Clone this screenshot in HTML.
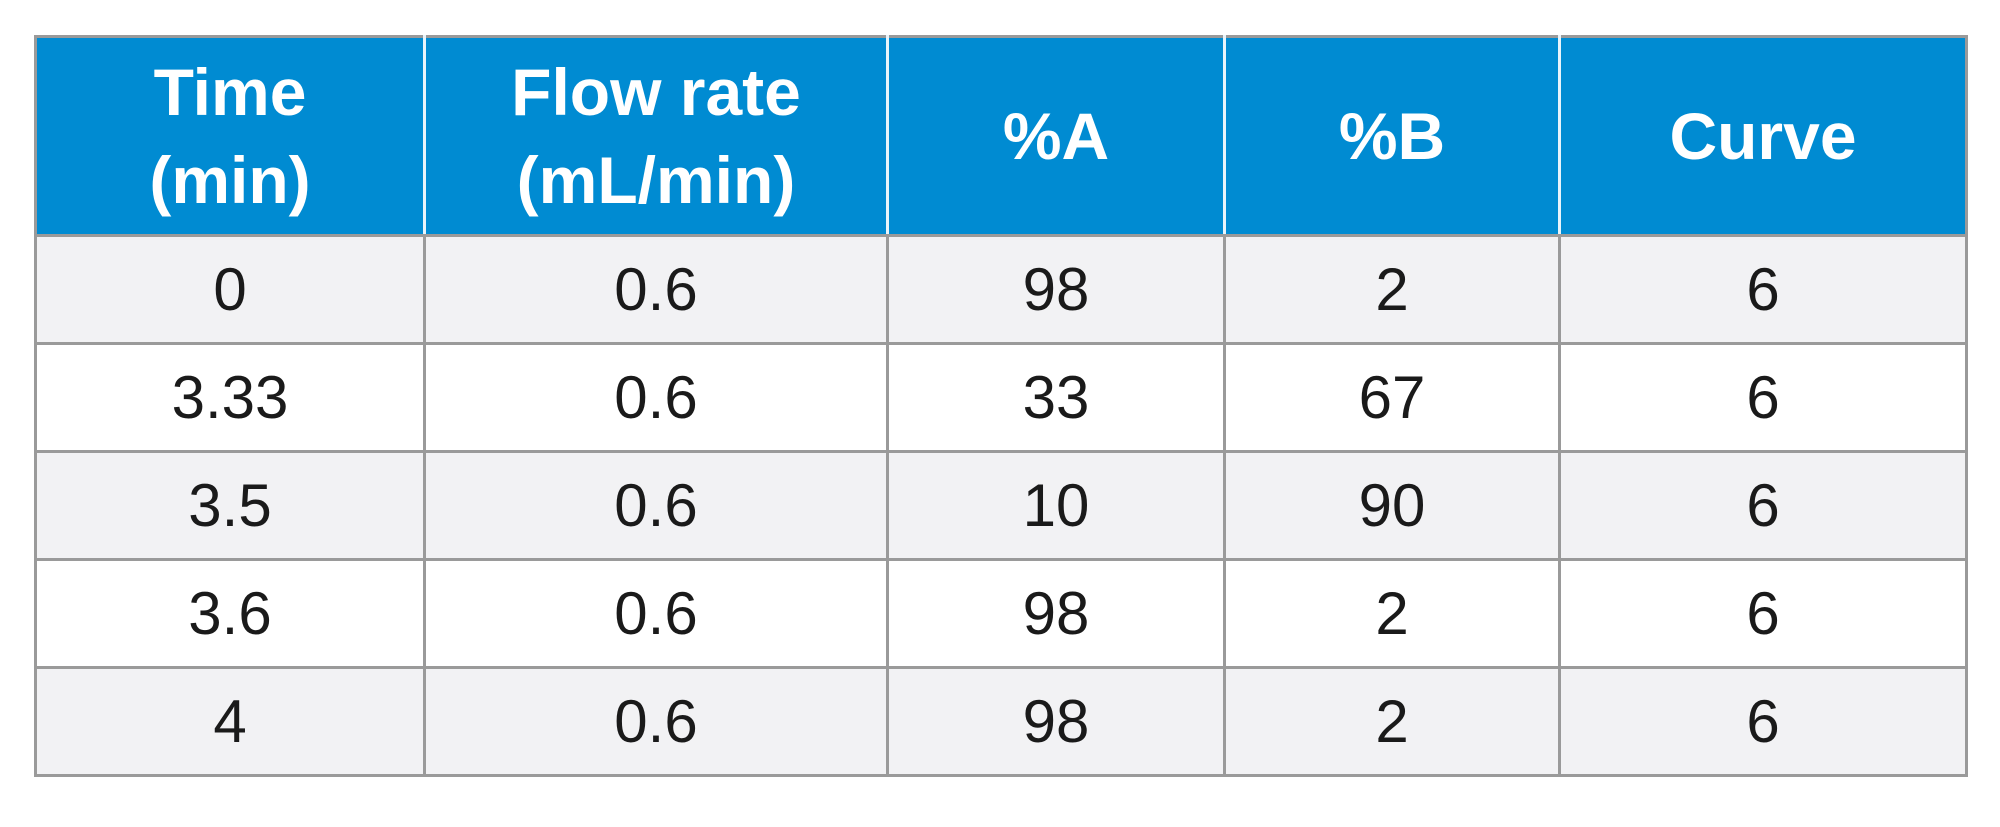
<!DOCTYPE html>
<html><head><meta charset="utf-8"><style>
html,body{margin:0;padding:0;background:#fff;width:2000px;height:827px;overflow:hidden;font-family:"Liberation Sans",Arial,sans-serif}
table{position:absolute;left:34px;top:35px;border-collapse:collapse;width:1931px;table-layout:fixed}
td,th{border:3px solid #9a9a9a;text-align:center;padding:0}
th{background:#008bd2;color:#fff;font-weight:bold;font-size:66px;line-height:88px;height:196px;border-left-color:#e8f4fb;border-right-color:#e8f4fb}
th:first-child{border-left-color:#9a9a9a}th:last-child{border-right-color:#9a9a9a}
td{font-size:60px;color:#1a1a1a;height:105px}
tr.g td{background:#f2f2f4}
</style></head><body>
<table>
<colgroup><col style="width:389px"><col style="width:463px"><col style="width:337px"><col style="width:335px"><col style="width:407px"></colgroup>
<tr><th>Time<br>(min)</th><th>Flow rate<br>(mL/min)</th><th>%A</th><th>%B</th><th>Curve</th></tr>
<tr class="g"><td>0</td><td>0.6</td><td>98</td><td>2</td><td>6</td></tr>
<tr><td>3.33</td><td>0.6</td><td>33</td><td>67</td><td>6</td></tr>
<tr class="g"><td>3.5</td><td>0.6</td><td>10</td><td>90</td><td>6</td></tr>
<tr><td>3.6</td><td>0.6</td><td>98</td><td>2</td><td>6</td></tr>
<tr class="g"><td>4</td><td>0.6</td><td>98</td><td>2</td><td>6</td></tr>
</table>
</body></html>
